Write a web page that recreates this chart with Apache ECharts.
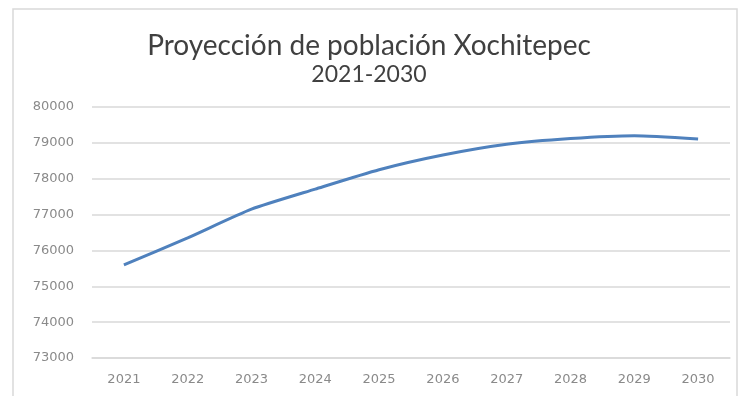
<!DOCTYPE html>
<html>
<head>
<meta charset="utf-8">
<script src="https://cdn.jsdelivr.net/npm/echarts@6/dist/echarts.min.js"></script>
<style>
  html, body { margin: 0; padding: 0; background: #fff; }
  #main { width: 738px; height: 396px; }
</style>
</head>
<body>
<div id="main"></div>
<script>
// años y población proyectada
var years = ['2021', '2022', '2023', '2024', '2025', '2026', '2027', '2028', '2029', '2030'];
var poblacion = [75600, 76350, 77150, 77710, 78250, 78660, 78960, 79120, 79200, 79110];
var yTicks = [73000, 74000, 75000, 76000, 77000, 78000, 79000, 80000];

var chart = echarts.init(document.getElementById('main'));
chart.setOption({
    animation: false,
    title: {
        text: '{a|Proyección de población Xochitepec}\n{b|2021-2030}',
        left: 'center',
        top: 26,
        textStyle: {
            fontWeight: 'normal',
            rich: {
                a: { fontFamily: 'Lato', fontWeight: 'normal', fontSize: 28, lineHeight: 30, color: '#404040' },
                b: { fontFamily: 'Lato', fontWeight: 'normal', fontSize: 23, lineHeight: 28, color: '#404040' }
            }
        }
    },
    graphic: [{
        type: 'rect',
        shape: { x: 13, y: 9, width: 724, height: 400 },
        style: { fill: 'none', stroke: '#d9d9d9', lineWidth: 1.5 },
        silent: true
    }],
    grid: { left: 92, right: 8, top: 107, bottom: 38 },
    xAxis: {
        type: 'category',
        data: years,
        boundaryGap: true,
        axisLine: { lineStyle: { color: '#d9d9d9', width: 1.5 } },
        axisTick: { show: false },
        axisLabel: { color: '#8a8a8a', fontFamily: 'DejaVu Sans', fontSize: 13, margin: 15 }
    },
    yAxis: {
        type: 'value',
        min: yTicks[0],
        max: yTicks[yTicks.length - 1],
        interval: 1000,
        axisLine: { show: false },
        axisTick: { show: false },
        splitLine: { lineStyle: { color: '#d9d9d9', width: 1.5 } },
        axisLabel: {
            color: '#8a8a8a', fontFamily: 'DejaVu Sans', fontSize: 13, margin: 18,
            formatter: function (v) { return String(v); }
        }
    },
    series: [{
        type: 'line',
        data: poblacion,
        symbol: 'none',
        smooth: 0.2,
        lineStyle: { color: '#4f81bd', width: 3 }
    }]
});
</script>
</body>
</html>
